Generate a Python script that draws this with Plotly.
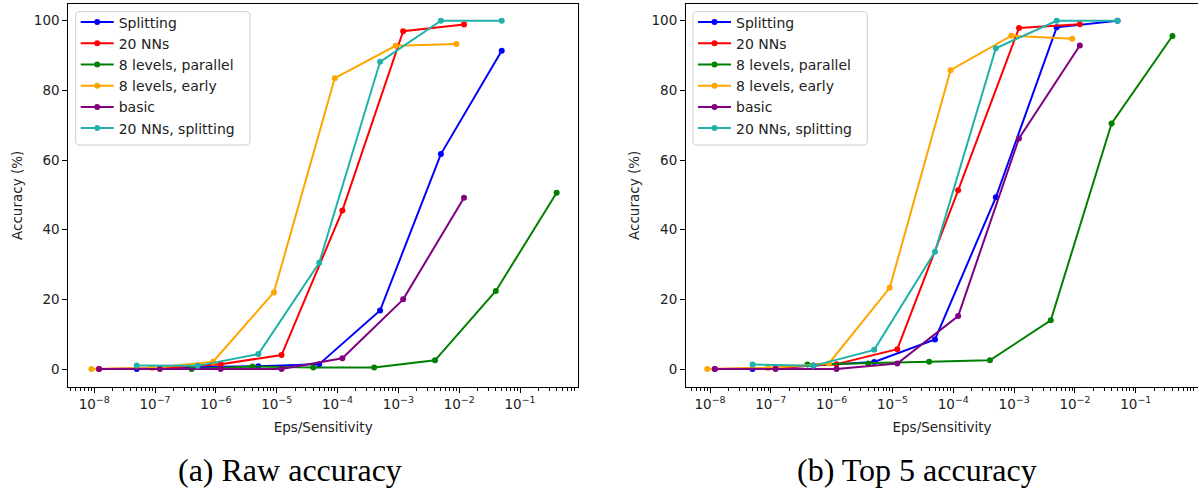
import plotly.graph_objects as go

# ---------------- data ----------------
series_names = ["Splitting", "20 NNs", "8 levels, parallel", "8 levels, early", "basic", "20 NNs, splitting"]
series_colors = ["#0000ff", "#ff0000", "#008000", "#ffa500", "#800080", "#20b2aa"]

x_splitting = [5e-8, 5e-7, 5e-6, 5e-5, 5e-4, 5e-3, 5e-2]
x_nns = [1.2e-8, 1.2e-7, 1.2e-6, 1.2e-5, 1.2e-4, 1.2e-3, 1.2e-2]
x_parallel = [4e-7, 4e-6, 4e-5, 4e-4, 4e-3, 4e-2, 4e-1]
x_early = [9e-9, 9e-8, 9e-7, 9e-6, 9e-5, 9e-4, 9e-3]
x_basic = [1.2e-8, 1.2e-7, 1.2e-6, 1.2e-5, 1.2e-4, 1.2e-3, 1.2e-2]
x_nns_splitting = [5e-8, 5e-7, 5e-6, 5e-5, 5e-4, 5e-3, 5e-2]

raw_splitting = [0.0, 0.6, 0.8, 1.4, 16.8, 61.7, 91.4]
raw_nns = [0.0, 0.3, 1.4, 4.0, 45.5, 97.0, 98.9]
raw_parallel = [0.0, 0.7, 0.4, 0.4, 2.5, 22.4, 50.6]
raw_early = [0.0, 0.3, 2.1, 22.0, 83.5, 92.8, 93.3]
raw_basic = [0.0, 0.0, 0.0, 0.0, 3.1, 20.0, 49.2]
raw_nns_splitting = [1.0, 0.9, 4.3, 30.5, 88.2, 100.0, 100.0]

top5_splitting = [0.0, 1.0, 2.0, 8.5, 49.3, 98.1, 100.0]
top5_nns = [0.0, 0.3, 1.4, 5.7, 51.3, 97.9, 99.0]
top5_parallel = [1.3, 1.6, 2.1, 2.5, 14.0, 70.5, 95.6]
top5_early = [0.0, 0.3, 1.6, 23.3, 85.8, 95.7, 94.8]
top5_basic = [0.0, 0.0, 0.0, 1.6, 15.2, 66.2, 92.9]
top5_nns_splitting = [1.3, 0.9, 5.5, 33.7, 92.1, 100.0, 100.0]

x_tick_vals = [1e-8, 1e-7, 1e-6, 1e-5, 1e-4, 1e-3, 1e-2, 1e-1]
x_tick_text = ["10<sup>−8</sup>", "10<sup>−7</sup>", "10<sup>−6</sup>", "10<sup>−5</sup>",
               "10<sup>−4</sup>", "10<sup>−3</sup>", "10<sup>−2</sup>", "10<sup>−1</sup>"]
y_tick_vals = [0, 20, 40, 60, 80, 100]
y_tick_text = ["0", "20", "40", "60", "80", "100"]

captions = ["(a) Raw accuracy", "(b) Top 5 accuracy"]

xs = [x_splitting, x_nns, x_parallel, x_early, x_basic, x_nns_splitting]
raw = [raw_splitting, raw_nns, raw_parallel, raw_early, raw_basic, raw_nns_splitting]
top5 = [top5_splitting, top5_nns, top5_parallel, top5_early, top5_basic, top5_nns_splitting]

# ---------------- layout geometry ----------------
W, H = 1198, 489
FONT = "DejaVu Sans"
FS = 13.5
FS_LEG = 14
TXT = "#222222"

fig = go.Figure()

for panel, ys in enumerate([raw, top5]):
    sfx = "" if panel == 0 else "2"
    for name, color, xv, yv in zip(series_names, series_colors, xs, ys):
        fig.add_trace(go.Scatter(
            x=xv, y=yv, name=name, mode="lines+markers",
            line=dict(color=color, width=2),
            marker=dict(color=color, size=6),
            xaxis="x" + sfx, yaxis="y" + sfx,
            legend="legend" + sfx,
        ))

minor_vals = [k * 10.0 ** e for e in range(-9, 1) for k in range(2, 10)]


def xaxis_cfg(domain, rng, anchor):
    return dict(
        type="log", domain=domain, range=rng, anchor=anchor,
        tickmode="array", tickvals=x_tick_vals, ticktext=x_tick_text,
        ticks="outside", ticklen=5, tickwidth=1, tickcolor="black",
        minor=dict(tickmode="array", tickvals=minor_vals, ticks="outside",
                   ticklen=3, tickwidth=0.8, tickcolor="black", showgrid=False),
        showline=True, linecolor="black", linewidth=1, mirror=True,
        showgrid=False, zeroline=False,
        tickfont=dict(family=FONT, size=FS, color=TXT),
        title=dict(text="Eps/Sensitivity", font=dict(family=FONT, size=FS, color=TXT), standoff=11),
    )


def yaxis_cfg(domain, anchor, mirror):
    return dict(
        domain=domain, range=[-5.08, 104.8], anchor=anchor,
        tickmode="array", tickvals=y_tick_vals, ticktext=y_tick_text,
        ticks="outside", ticklen=5, tickwidth=1, tickcolor="black",
        showline=True, linecolor="black", linewidth=1, mirror=mirror,
        showgrid=False, zeroline=False,
        tickfont=dict(family=FONT, size=FS, color=TXT),
        title=dict(text="Accuracy (%)", font=dict(family=FONT, size=FS, color=TXT), standoff=8),
    )


ydom = [1 - 386.7 / H, 1 - 4 / H]
left_dom = [68.3 / W, 578 / W]
right_dom = [686.0 / W, 1.0]
xr_left = [-8.426, -0.047]
xr_right = [-8.0 - 24.0 / 60.83, -8.0 - 24.0 / 60.83 + (W - 686.0) / 60.83]

legend_style = dict(
    bgcolor="rgba(0,0,0,0)", borderwidth=0,
    font=dict(family=FONT, size=FS_LEG, color=TXT),
    xanchor="left", yanchor="top", xref="paper", yref="paper",
    itemwidth=33, tracegroupgap=0,
)

fig.update_layout(
    width=W, height=H,
    margin=dict(l=0, r=0, t=0, b=0),
    paper_bgcolor="white", plot_bgcolor="white",
    showlegend=True,
    xaxis=xaxis_cfg(left_dom, xr_left, "y"),
    yaxis=yaxis_cfg(ydom, "x", True),
    xaxis2=xaxis_cfg(right_dom, xr_right, "y2"),
    yaxis2=yaxis_cfg(ydom, "x2", False),
    legend=legend_style | dict(x=75.7 / W, y=1 - 6.5 / H),
    legend2=legend_style | dict(x=693.0 / W, y=1 - 6.5 / H),
)


def px(xp, yp):
    return f"{xp / W:.6f},{1 - yp / H:.6f}"


def rounded_box(x0, y0, x1, y1, r):
    return (f"M {px(x0 + r, y0)} L {px(x1 - r, y0)} Q {px(x1, y0)} {px(x1, y0 + r)} "
            f"L {px(x1, y1 - r)} Q {px(x1, y1)} {px(x1 - r, y1)} "
            f"L {px(x0 + r, y1)} Q {px(x0, y1)} {px(x0, y1 - r)} "
            f"L {px(x0, y0 + r)} Q {px(x0, y0)} {px(x0 + r, y0)} Z")


for bx in [75.7, 693.0]:
    fig.add_shape(
        type="path", path=rounded_box(bx, 11.7, bx + 174.3, 145.0, 4),
        xref="paper", yref="paper", layer="above",
        fillcolor="rgba(255,255,255,0.8)", line=dict(color="#cccccc", width=1),
    )

cap_x = [290 / W, 917 / W]
for cx, txt in zip(cap_x, captions):
    fig.add_annotation(
        text=txt, x=cx, y=1 - 470 / H, xref="paper", yref="paper",
        xanchor="center", yanchor="middle", showarrow=False,
        font=dict(family="Liberation Serif", size=32, color="black"),
    )

fig.write_html("out.html")
